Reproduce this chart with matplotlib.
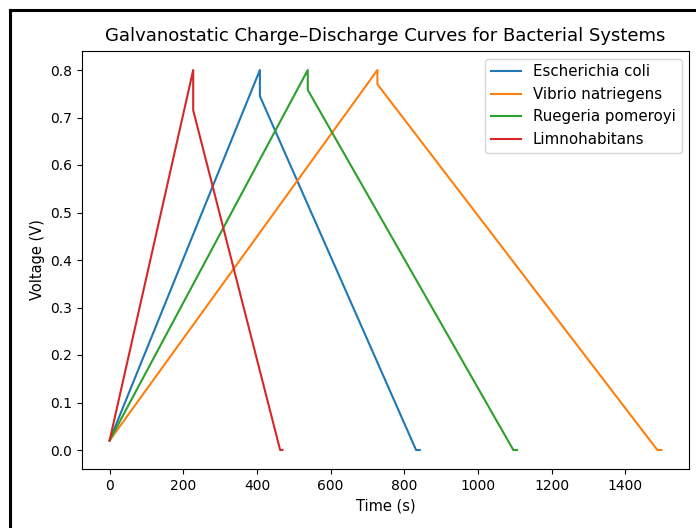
import matplotlib
matplotlib.use("Agg")
import matplotlib.pyplot as plt
from matplotlib.lines import Line2D

# Data (time in s, voltage in V)
names = ["Escherichia coli", "Vibrio natriegens", "Ruegeria pomeroyi", "Limnohabitans"]
colors = ["#1f77b4", "#ff7f0e", "#2ca02c", "#d62728"]
start_v = 0.02
peak_v = 0.8
peak_t = [408, 727, 538, 227]
drop_v = [0.745, 0.770, 0.758, 0.715]
zero_t = [832, 1487, 1096, 463]
end_t = [842, 1498, 1106, 469]

fig = plt.figure(figsize=(6.96, 5.28), dpi=100)
ax = fig.add_axes([82/696, 1 - 469/528, (689 - 82)/696, (469 - 51)/528])

for n, c, tp, vd, tz, te in zip(names, colors, peak_t, drop_v, zero_t, end_t):
    t = [0, tp, tp, tz, te]
    v = [start_v, peak_v, vd, 0.0, 0.0]
    ax.plot(t, v, color=c, label=n, linewidth=1.5)

ax.set_title("Galvanostatic Charge\u2013Discharge Curves for Bacterial Systems", fontsize=13, pad=7)
ax.set_xlabel("Time (s)", fontsize=10.5)
ax.set_ylabel("Voltage (V)", fontsize=10.5)
ax.legend(loc="upper right", fontsize=10.8)

# screenshot frame lines
fig.add_artist(Line2D([9.5/696, 1.0], [1 - 10/528, 1 - 10/528], color="black", linewidth=2.2,
                      transform=fig.transFigure))
fig.add_artist(Line2D([9.5/696, 9.5/696], [0.0, 1 - 10/528], color="black", linewidth=2.2,
                      transform=fig.transFigure))

fig.savefig("out.png", dpi=100)
